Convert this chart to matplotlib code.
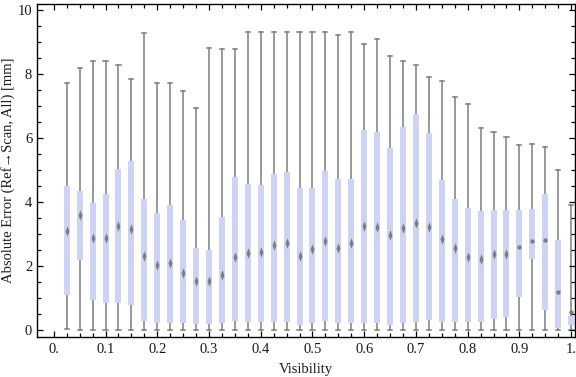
#!/usr/bin/env python3
import numpy as np
import matplotlib

matplotlib.use("Agg")
matplotlib.rcParams["font.family"] = ["Liberation Serif", "DejaVu Serif"]
matplotlib.rcParams["font.size"] = 10.5

import matplotlib.pyplot as plt
from matplotlib.patches import Rectangle
from matplotlib.path import Path as MPath

BOX_COLOR = "#CDD3F5"
WHISKER_COLOR = "#7D7D7D"
MEDIAN_COLOR = "#757575"
TEXT_COLOR = "#1A1A1A"

visibility = [0.025, 0.05, 0.075, 0.1, 0.125, 0.15, 0.175, 0.2, 0.225, 0.25,
              0.275, 0.3, 0.325, 0.35, 0.375, 0.4, 0.425, 0.45, 0.475, 0.5,
              0.525, 0.55, 0.575, 0.6, 0.625, 0.65, 0.675, 0.7, 0.725, 0.75,
              0.775, 0.8, 0.825, 0.85, 0.875, 0.9, 0.925, 0.95, 0.975, 1.0]

whisker_low = [0.03, 0, 0, 0, 0, 0, 0, 0, 0, 0,
               0, 0, 0, 0, 0, 0, 0, 0, 0, 0,
               0, 0, 0, 0, 0, 0, 0, 0, 0, 0,
               0, 0, 0, 0, 0, 0, 0, 0, 0, 0]

q1 = [1.10, 2.20, 0.95, 0.85, 0.86, 0.79, 0.29, 0.23, 0.23, 0.23,
      0.20, 0.20, 0.23, 0.29, 0.26, 0.26, 0.26, 0.26, 0.17, 0.23,
      0.30, 0.23, 0.23, 0.23, 0.23, 0.17, 0.23, 0.26, 0.32, 0.26,
      0.26, 0.26, 0.26, 0.35, 0.43, 1.04, 2.23, 0.64, 0.08, 0.17]

median = [3.10, 3.61, 2.89, 2.88, 3.26, 3.17, 2.33, 2.05, 2.10, 1.78,
          1.55, 1.53, 1.73, 2.30, 2.42, 2.43, 2.65, 2.74, 2.31, 2.54,
          2.79, 2.57, 2.74, 3.26, 3.23, 2.99, 3.20, 3.36, 3.23, 2.85,
          2.58, 2.29, 2.23, 2.38, 2.38, 2.61, 2.78, 2.82, 1.21, 0.56]

q3 = [4.51, 4.34, 3.97, 4.26, 5.03, 5.28, 4.09, 3.67, 3.92, 3.44,
      2.56, 2.50, 3.53, 4.79, 4.56, 4.53, 4.88, 4.93, 4.44, 4.44,
      4.96, 4.71, 4.71, 6.25, 6.19, 5.69, 6.34, 6.75, 6.16, 4.69,
      4.09, 3.81, 3.72, 3.75, 3.75, 3.75, 3.78, 4.25, 2.83, 0.45]

whisker_high = [7.71, 8.18, 8.40, 8.40, 8.27, 7.86, 9.27, 7.71, 7.71, 7.46,
                6.93, 8.83, 8.77, 8.77, 9.30, 9.30, 9.33, 9.30, 9.30, 9.30,
                9.30, 9.21, 9.30, 8.94, 9.11, 8.55, 8.40, 8.27, 7.90, 7.78,
                7.30, 7.08, 6.33, 6.18, 6.05, 5.80, 5.83, 5.72, 4.99, 3.91]

x_ticks = [0.0, 0.1, 0.2, 0.3, 0.4, 0.5, 0.6, 0.7, 0.8, 0.9, 1.0]
x_tick_labels = ["0.", "0.1", "0.2", "0.3", "0.4", "0.5", "0.6", "0.7", "0.8", "0.9", "1."]
y_ticks = [0, 2, 4, 6, 8, 10]

# tall thin diamond for the median
diamond = MPath([(0, 1), (0.38, 0), (0, -1), (-0.38, 0), (0, 1)],
                [MPath.MOVETO, MPath.LINETO, MPath.LINETO, MPath.LINETO, MPath.CLOSEPOLY])

W, H = 576, 377
fig = plt.figure(figsize=(W / 100, H / 100), dpi=100)
ax = fig.add_axes([37 / W, 1 - 337 / H, (575 - 37) / W, (337 - 4.3) / H])

box_w = 0.0116
cap_w = 0.008
for x, lo, a, m, b, hi in zip(visibility, whisker_low, q1, median, q3, whisker_high):
    ax.plot([x, x], [lo, a], color=WHISKER_COLOR, lw=1.1, zorder=1)
    ax.plot([x, x], [b, hi], color=WHISKER_COLOR, lw=1.1, zorder=1)
    ax.plot([x - cap_w / 2, x + cap_w / 2], [lo, lo], color=WHISKER_COLOR, lw=1.1, zorder=1)
    ax.plot([x - cap_w / 2, x + cap_w / 2], [hi, hi], color=WHISKER_COLOR, lw=1.1, zorder=1)
    ax.add_patch(Rectangle((x - box_w / 2, a), box_w, b - a, facecolor=BOX_COLOR,
                           edgecolor="none", zorder=2))
    if x < 0.89:
        ax.plot([x], [m], marker=diamond, ms=7.5, color=MEDIAN_COLOR, mew=0, alpha=0.9, zorder=3)
    else:
        ax.plot([x], [m], marker="o", ms=3.2, color=MEDIAN_COLOR, mew=0, alpha=0.9, zorder=3)

ax.set_xlim(-0.0325, 1.0075)
ax.set_ylim(-0.21, 10.18)

ax.set_xticks(x_ticks)
ax.set_xticklabels(x_tick_labels)
ax.set_xticks(visibility, minor=True)
ax.set_yticks(y_ticks)
ax.set_yticks(np.arange(0, 10.01, 0.5), minor=True)

ax.tick_params(which="both", direction="in", top=True, right=True, colors="black",
               labelcolor=TEXT_COLOR, width=0.9)
ax.tick_params(which="major", length=4.5)
ax.tick_params(which="minor", length=3)
ax.tick_params(axis="x", pad=4)
ax.tick_params(axis="y", pad=3.5)

for s in ax.spines.values():
    s.set_linewidth(1.0)
    s.set_color("black")

ax.set_xlabel("Visibility", color=TEXT_COLOR, labelpad=5)
ax.set_ylabel("Absolute Error (Ref\u2192Scan, All) [mm]", color=TEXT_COLOR, labelpad=2)

fig.savefig("out.png", dpi=100)
